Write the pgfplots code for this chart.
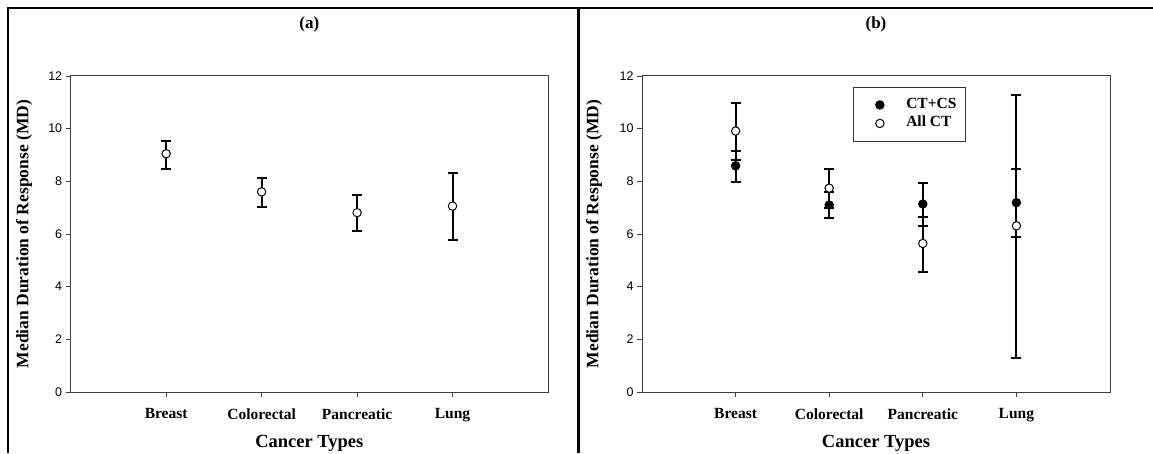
\documentclass[border=0pt]{standalone}
\usepackage{fontspec}
\setmainfont{Liberation Serif}
\newfontfamily\arial{Liberation Sans}
\usepackage{pgfplots}
\pgfplotsset{compat=1.18}

\pgfplotsset{
  mdaxis/.style={
    scale only axis,
    height=316pt,
    xmin=0, xmax=5, ymin=0, ymax=12,
    xtick={1,2,3,4},
    xticklabels={Breast,Colorectal,Pancreatic,Lung},
    ytick={0,2,4,6,8,10,12},
    tick align=outside, tick pos=left,
    major tick length=5pt,
    axis line style={black!75, line width=1pt},
    tick style={black!75, line width=0.8pt},
    /pgf/number format/assume math mode=true,
    xticklabel style={font=\bfseries\fontsize{15.5}{15.5}\selectfont, yshift=-8pt},
    yticklabel style={font=\arial\fontsize{12.5}{12.5}\selectfont},
    xlabel={Cancer Types},
    ylabel={Median Duration of Response (MD)},
    every axis x label/.style={at={(axis description cs:0.5,0)}, anchor=north,
      inner sep=0pt, yshift=-43pt, font=\bfseries\fontsize{18.5}{18.5}\selectfont},
    title style={at={(axis description cs:0.5,1)}, anchor=center, yshift=46pt,
      font=\bfseries\fontsize{17}{17}\selectfont},
    clip=false,
  },
  ci/.style={
    only marks, mark=*, mark size=4.2pt,
    error bars/y dir=both, error bars/y explicit,
    error bars/error mark=-,
    error bars/error bar style={black, line width=2pt},
    error bars/error mark options={black, rotate=90, line width=2pt, mark size=5pt},
  },
  openpt/.style={mark options={draw=black, fill=white, line width=1pt}},
  fullpt/.style={mark options={draw=black, fill=black, line width=1pt}},
}

\begin{document}
\begin{tikzpicture}
\path[use as bounding box] (0pt,0pt) rectangle (1153pt,453pt);

% frame around both panels
\draw[line width=2.5pt] (8pt,0pt) -- (8pt,445pt) -- (1153pt,445pt);
\draw[line width=3pt] (578pt,0pt) -- (578pt,445pt);

% (a) all patients
\begin{axis}[mdaxis, width=477.3pt, at={(70.7pt,61pt)}, anchor=south west,
  title={(a)},
  every axis y label/.style={at={(axis description cs:-0.0978,0.5)}, rotate=90,
    anchor=center, inner sep=0pt, font=\bfseries\fontsize{17.5}{17.5}\selectfont}]
\addplot[ci, openpt] coordinates {
  (1,9.05) += (0,0.50) -= (0,0.57)
  (2,7.60) += (0,0.54) -= (0,0.58)
  (3,6.81) += (0,0.67) -= (0,0.70)
  (4,7.06) += (0,1.24) -= (0,1.27)
};
\end{axis}

% (b) CT+CS against all CT
\begin{axis}[mdaxis, width=468pt, at={(642pt,61pt)}, anchor=south west,
  title={(b)},
  every axis y label/.style={at={(axis description cs:-0.1026,0.5)}, rotate=90,
    anchor=center, inner sep=0pt, font=\bfseries\fontsize{17.5}{17.5}\selectfont},
  legend cell align=left,
  legend image code/.code={
    \path (0pt,0pt) (43pt,0pt);
    \draw[mark repeat=2, mark phase=2, #1] plot coordinates {(0pt,0pt) (18pt,0pt) (43pt,0pt)};
  },
  legend style={at={(rel axis cs:0.451,0.965)}, anchor=north west,
    draw=black!80, line width=0.8pt, inner xsep=8pt, inner ysep=9.5pt,
    font=\bfseries\fontsize{15.5}{15.5}\selectfont,
    nodes={inner xsep=1pt, inner ysep=1.5pt, text height=10pt, text depth=3pt},
    row sep=2.5pt}]
\addplot[ci, fullpt] coordinates {
  (1,8.59) += (0,0.58) -= (0,0.61)
  (2,7.10) += (0,0.51) -= (0,0.49)
  (3,7.14) += (0,0.79) -= (0,0.85)
  (4,7.19) += (0,1.27) -= (0,1.29)
};
\addlegendentry{CT+CS}
\addplot[ci, openpt] coordinates {
  (1,9.91) += (0,1.05) -= (0,1.11)
  (2,7.74) += (0,0.72) -= (0,0.74)
  (3,5.64) += (0,1.00) -= (0,1.07)
  (4,6.31) += (0,4.96) -= (0,5.01)
};
\addlegendentry{All CT}
\end{axis}
\end{tikzpicture}
\end{document}
